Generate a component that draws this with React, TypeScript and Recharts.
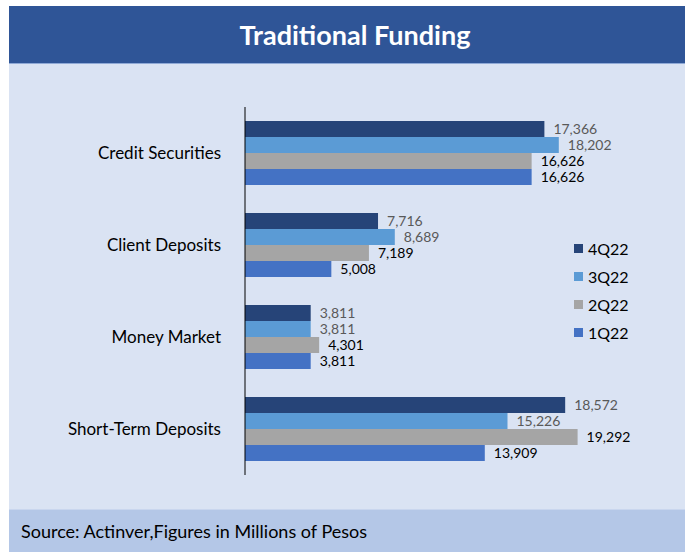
import React from 'react';
import { BarChart, Bar, XAxis, YAxis, LabelList, Legend } from 'recharts';

const categories = ['Credit Securities', 'Client Deposits', 'Money Market', 'Short-Term Deposits'];
const q4_22 = [17366, 7716, 3811, 18572];
const q3_22 = [18202, 8689, 3811, 15226];
const q2_22 = [16626, 7189, 4301, 19292];
const q1_22 = [16626, 5008, 3811, 13909];

const seriesNames = ['4Q22', '3Q22', '2Q22', '1Q22'];
const seriesColors = ['#264478', '#5B9BD5', '#A5A5A5', '#4472C4'];
const labelColors = ['#595959', '#595959', '#000000', '#000000'];

const data = categories.map((name, i) => ({
  name,
  q4: q4_22[i],
  q3: q3_22[i],
  q2: q2_22[i],
  q1: q1_22[i],
}));

const keys = ['q4', 'q3', 'q2', 'q1'];
const FONT = 'Lato, "Open Sans", sans-serif';

const fmt = (v: unknown) => Number(v).toLocaleString('en-US');

const LegendBox = () => (
  <div style={{ fontFamily: FONT, fontSize: 16, color: '#000' }}>
    {seriesNames.map((n, i) => (
      <div key={n} style={{ display: 'flex', alignItems: 'center', height: 28 }}>
        <span
          style={{ width: 9, height: 9, background: seriesColors[i], display: 'inline-block', marginRight: 5 }}
        />
        {n}
      </div>
    ))}
  </div>
);

export default function App() {
  return (
    <div style={{ position: 'absolute', left: 0, top: 0, width: 685, height: 552, background: '#fff', fontFamily: FONT }}>
      <div
        style={{
          position: 'absolute', left: 9, top: 6, width: 676, height: 58, background: '#2F5597',
          color: '#fff', fontWeight: 700, fontSize: 27, display: 'flex', alignItems: 'center', justifyContent: 'center',
          borderBottom: '1px solid #8fa9d6', boxSizing: 'border-box', paddingLeft: 16,
        }}
      >
        Traditional Funding
      </div>
      <div style={{ position: 'absolute', left: 9, top: 64, width: 676, height: 445, background: '#DAE3F3' }}>
        <BarChart
          width={676}
          height={445}
          data={data}
          layout="vertical"
          margin={{ top: 43, right: 9, bottom: 34, left: 0 }}
          barCategoryGap={14}
          barGap={0}
        >
          <XAxis type="number" domain={[0, 25000]} hide />
          <YAxis
            type="category"
            dataKey="name"
            width={236}
            axisLine={{ stroke: '#000', strokeWidth: 1 }}
            tickLine={false}
            tickMargin={18}
            tick={{ fill: '#000', fontSize: 17, fontFamily: FONT }}
          />
          <Legend
            layout="horizontal"
            verticalAlign="middle"
            align="center"
            content={<LegendBox />}
            wrapperStyle={{ left: 565, top: 170, width: 80 }}
          />
          {keys.map((k, i) => (
            <Bar key={k} dataKey={k} name={seriesNames[i]} fill={seriesColors[i]} isAnimationActive={false}>
              <LabelList
                dataKey={k}
                position="right"
                offset={9}
                formatter={fmt}
                fill={labelColors[i]}
                style={{ fontSize: 14, fontFamily: FONT }}
              />
            </Bar>
          ))}
        </BarChart>
      </div>
      <div
        style={{
          position: 'absolute', left: 9, top: 509, width: 676, height: 43, background: '#B4C7E7',
          color: '#000', fontSize: 18, display: 'flex', alignItems: 'center', paddingLeft: 12, boxSizing: 'border-box',
          borderTop: '1px solid #c9d6ee',
        }}
      >
        Source: Actinver,Figures in Millions of Pesos
      </div>
    </div>
  );
}
